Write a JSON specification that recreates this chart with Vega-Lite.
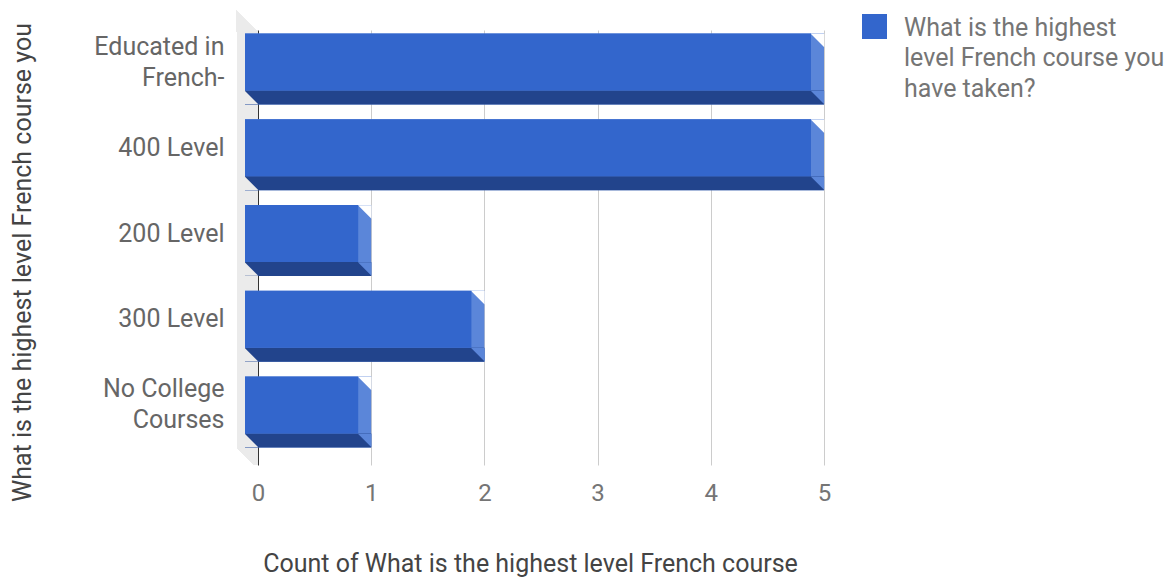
{
  "$schema": "https://vega.github.io/schema/vega-lite/v6.json",
  "width": 566,
  "height": 435,
  "autosize": {"type": "none"},
  "padding": {"left": 258, "top": 30, "right": 352, "bottom": 113},
  "background": "#ffffff",
  "config": {
    "font": "Roboto",
    "view": {"stroke": null}
  },
  "data": {
    "values": [
      {"level": "Educated in French-", "count": 5},
      {"level": "400 Level", "count": 5},
      {"level": "200 Level", "count": 1},
      {"level": "300 Level", "count": 2},
      {"level": "No College Courses", "count": 1}
    ]
  },
  "layer": [
    {
      "mark": {"type": "rule", "color": "#ebebeb", "strokeWidth": 21, "xOffset": -10.5},
      "encoding": {"x": {"datum": 0, "type": "quantitative"}}
    },
    {
      "mark": {"type": "point", "shape": "M-1,-1L1,1L-1,1Z", "filled": true, "size": 484, "color": "#ebebeb", "opacity": 1, "xOffset": -11, "yOffset": -55},
      "encoding": {
        "y": {"datum": "Educated in French-", "type": "nominal"},
        "x": {"datum": 0, "type": "quantitative"}
      }
    },
    {
      "mark": {"type": "point", "shape": "M-1,-1L1,1L-1,1Z", "filled": true, "size": 484, "color": "#ffffff", "opacity": 1, "xOffset": -11, "yOffset": 40},
      "encoding": {
        "y": {"datum": "No College Courses", "type": "nominal"},
        "x": {"datum": 0, "type": "quantitative"}
      }
    },
    {
      "mark": {"type": "bar", "color": "#5b86d9", "xOffset": 0, "x2Offset": -13, "height": 71, "yOffset": -7},
      "encoding": {
        "y": {"field": "level", "type": "nominal", "sort": null},
        "x": {"field": "count", "type": "quantitative", "stack": null},
        "x2": {"datum": 0}
      }
    },
    {
      "mark": {"type": "bar", "color": "#22448c", "xOffset": 0, "x2Offset": -13, "height": 14, "yOffset": 21.5},
      "encoding": {
        "y": {"field": "level", "type": "nominal", "sort": null},
        "x": {"field": "count", "type": "quantitative", "stack": null},
        "x2": {"datum": 0}
      }
    },
    {
      "mark": {"type": "point", "shape": "M-1,-1L1,-1L1,1Z", "filled": true, "size": 182, "color": "#ffffff", "opacity": 1, "xOffset": -6.5, "yOffset": -35.5},
      "encoding": {
        "y": {"field": "level", "type": "nominal", "sort": null},
        "x": {"field": "count", "type": "quantitative"}
      }
    },
    {
      "mark": {"type": "point", "shape": "M-1,-1L1,-1L1,1Z", "filled": true, "size": 182, "color": "#5b86d9", "opacity": 1, "xOffset": -6.5, "yOffset": 21.5},
      "encoding": {
        "y": {"field": "level", "type": "nominal", "sort": null},
        "x": {"field": "count", "type": "quantitative"}
      }
    },
    {
      "mark": {"type": "point", "shape": "M-1,-1L-1,1L1,1Z", "filled": true, "size": 182, "color": "#ebebeb", "opacity": 1, "xOffset": -6.5, "yOffset": 21.5},
      "encoding": {
        "y": {"field": "level", "type": "nominal", "sort": null},
        "x": {"datum": 0, "type": "quantitative"}
      }
    },
    {
      "mark": {"type": "bar", "xOffset": -13, "x2Offset": -13, "yOffset": -14},
      "encoding": {
        "y": {
          "field": "level",
          "type": "nominal",
          "sort": null,
          "scale": {
            "domain": ["Educated in French-", "400 Level", "200 Level", "300 Level", "No College Courses"],
            "paddingInner": 0.335,
            "paddingOuter": 0.204
          },
          "axis": {
            "title": "What is the highest level French course you",
            "titleFontSize": 25,
            "titleFontWeight": "normal",
            "titleColor": "#444444",
            "titleX": -236,
            "titleY": 232,
            "titleBaseline": "middle",
            "titleAngle": -90,
            "labelFontSize": 25,
            "labelColor": "#666666",
            "labelPadding": 34,
            "labelLineHeight": 31,
            "labelLimit": 300,
            "labelBaseline": "middle",
            "labelOffset": {"expr": "datum.value == 'Educated in French-' || datum.value == 'No College Courses' ? -29.5 : -14"},
            "labelExpr": "datum.value == 'Educated in French-' ? ['Educated in', 'French-'] : datum.value == 'No College Courses' ? ['No College', 'Courses'] : datum.value",
            "domain": false,
            "ticks": false,
            "grid": false
          }
        },
        "x": {
          "field": "count",
          "type": "quantitative",
          "stack": null,
          "scale": {"domain": [0, 5], "nice": false},
          "axis": {
            "title": "Count of What is the highest level French course",
            "titleFontSize": 25,
            "titleFontWeight": "normal",
            "titleColor": "#444444",
            "titleX": 272,
            "titleY": 98,
            "titleBaseline": "middle",
            "labelFontSize": 24,
            "labelColor": "#757575",
            "labelPadding": 28,
            "labelBaseline": "middle",
            "labelFlush": false,
            "values": [0, 1, 2, 3, 4, 5],
            "format": "d",
            "domain": false,
            "ticks": false,
            "grid": true,
            "gridColor": {"expr": "datum.value == 0 ? '#333333' : '#cccccc'"},
            "gridWidth": 1
          }
        },
        "x2": {"datum": 0},
        "color": {
          "datum": "What is the highest level French course you have taken?",
          "type": "nominal",
          "scale": {"range": ["#3366cc"]},
          "legend": {
            "title": null,
            "orient": "none",
            "legendX": 604,
            "legendY": -16,
            "symbolType": "square",
            "symbolSize": 625,
            "symbolStrokeWidth": 0,
            "symbolOpacity": 1,
            "labelFontSize": 25,
            "labelColor": "#757575",
            "labelOffset": 17,
            "labelLimit": 400,
            "labelBaseline": "middle",
            "labelExpr": "['What is the highest', 'level French course you', 'have taken?']",
            "encode": {
              "labels": {"update": {"lineHeight": {"value": 30.5}, "dy": {"value": 1}}}
            }
          }
        }
      }
    }
  ]
}
